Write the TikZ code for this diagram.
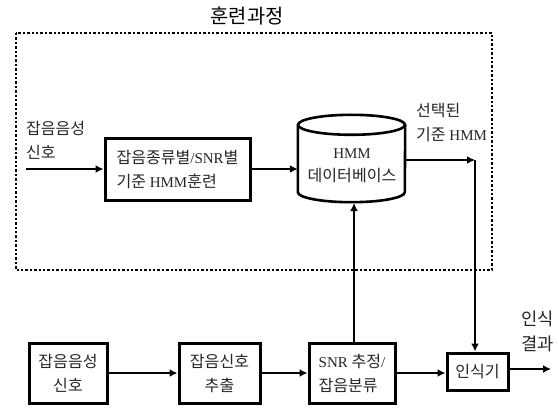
\documentclass[tikz,border=0pt]{standalone}
\usepackage{fontspec}
\setmainfont{Liberation Serif}
\newfontfamily\kr[Scale=1.07]{Noto Sans CJK KR}
\usetikzlibrary{arrows.meta,calc}
\begin{document}
\begin{tikzpicture}[x=1pt,y=-1pt,
  box/.style={draw,line width=3pt,inner sep=0pt,font=\fontsize{15}{24}\selectfont,text=black!85},
  lbl/.style={inner sep=0pt,font=\fontsize{15}{24}\selectfont,text=black!85,align=left},
  arr/.style={line width=2.2pt,-{Latex[length=8pt,width=8pt]}}]
\useasboundingbox (0,0) rectangle (559,409);
% title and dotted frame
\node[inner sep=0pt,font=\fontsize{18.5}{20}\selectfont] (title) at (247,16) {\kr 훈련과정};
\draw[line width=2.4pt,dotted] (16,33) rectangle (492,270);
% training part
\node[lbl,anchor=west] (in1) at (26,140) {\kr 잡음음성\\\kr 신호};
\coordinate (in1s) at (26,169);
\node[box,minimum width=145,minimum height=62,align=left] (box1) at (177.5,169)
  {{\kr 잡음종류별}/SNR{\kr 별}\\{\kr 기준} HMM{\kr 훈련}};
% cylinder
\node[minimum width=107,minimum height=87,inner sep=0pt] (db) at (351.5,158.5) {};
\draw[line width=2.6pt,fill=white] ($(db.north west)+(0,10)$) -- ($(db.south west)+(0,-10)$)
  arc[start angle=180,end angle=0,x radius=53.5,y radius=10]
  -- ($(db.north east)+(0,10)$);
\draw[line width=2.6pt] ($(db.north)+(0,10)$) ellipse[x radius=53.5,y radius=10];
\node[inner sep=0pt,align=center,font=\fontsize{15}{23}\selectfont,text=black!85] (dbt) at (352,166) {HMM\\\kr 데이터베이스};
\node[lbl,anchor=west] (sel) at (416,122) {\kr 선택된\\{\kr 기준} HMM};
\coordinate (corner) at (475,160);
% bottom row
\node[box,minimum width=78,minimum height=60,align=center] (b1) at (68,373) {\kr 잡음음성\\\kr 신호};
\node[box,minimum width=81,minimum height=60,align=center] (b2) at (219.5,373) {\kr 잡음신호\\\kr 추출};
\node[box,minimum width=86,minimum height=60,align=left] (b3) at (352,373) {SNR {\kr 추정}/\\\kr 잡음분류};
\node[box,minimum width=61,minimum height=37,align=center] (rec) at (477.5,371.5) {\kr 인식기};
\node[lbl,anchor=west,font=\fontsize{16.5}{25}\selectfont] (res) at (521,331) {\kr 인식\\\kr 결과};
\coordinate (out) at (551,369);
% connectors
\draw[arr] (in1s) -- (in1s -| box1.west);
\draw[arr] (box1.east |- in1s) -- (in1s -| db.west);
\draw[arr] (db.east |- corner) -- (corner);
\draw[arr] (corner) -- (corner |- rec.north);
\draw[arr] (b1) -- (b2);
\draw[arr] (b2) -- (b3);
\draw[arr] (b3.east |- 0,373) -- (rec.west |- 0,373);
\draw[arr] (rec.east |- out) -- (out);
\draw[arr] (b3.north -| 354,0) -- (354,203);
\end{tikzpicture}
\end{document}
